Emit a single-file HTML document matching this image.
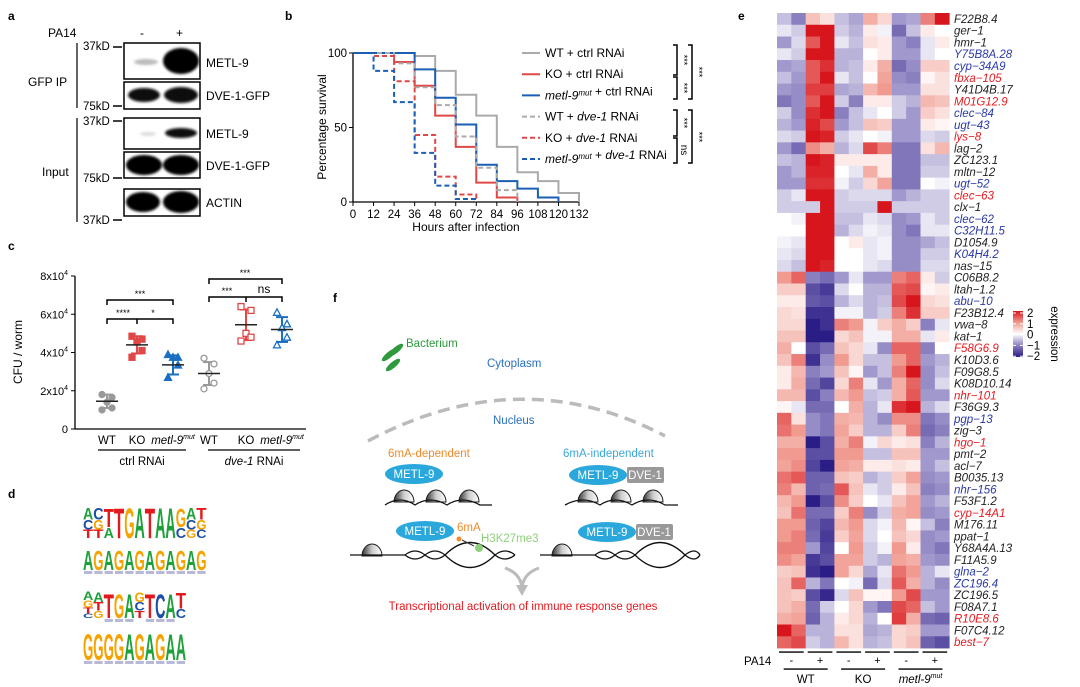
<!DOCTYPE html>
<html><head><meta charset="utf-8"><style>
html,body{margin:0;padding:0;background:#fff}
svg{display:block;font-family:"Liberation Sans",Arial,sans-serif}
</style></head><body>
<svg id="fig" width="1080" height="687" viewBox="0 0 1080 687" xmlns="http://www.w3.org/2000/svg">
<defs>
<linearGradient id="nuc" x1="0" y1="0" x2="1" y2="0"><stop offset="0" stop-color="#333"/><stop offset="0.5" stop-color="#ccc"/><stop offset="1" stop-color="#fff"/></linearGradient>
<linearGradient id="cbar" x1="0" y1="0" x2="0" y2="1"><stop offset="0" stop-color="#d7151d"/><stop offset="0.25" stop-color="#f09a90"/><stop offset="0.5" stop-color="#ffffff"/><stop offset="0.75" stop-color="#8a80c0"/><stop offset="1" stop-color="#2b1d86"/></linearGradient>
<filter id="blur1"><feGaussianBlur stdDeviation="1.2"/></filter>
</defs>

<g font-weight="bold" font-size="12">
<text x="8" y="20">a</text>
<text x="285" y="20">b</text>
<text x="738" y="20">e</text>
<text x="8" y="250">c</text>
<text x="333" y="302">f</text>
<text x="8" y="498">d</text>
</g>

<g id="panelA" font-size="12">
<text x="48" y="37">PA14</text>
<text x="140" y="37">-</text>
<text x="176" y="37">+</text>
<line x1="77" y1="43" x2="77" y2="108" stroke="#333" stroke-width="1.5"/>
<line x1="77" y1="118" x2="77" y2="222" stroke="#333" stroke-width="1.5"/>
<text x="28" y="86">GFP IP</text>
<text x="42" y="176">Input</text>
<g font-size="11.5">
<text x="83" y="50">37kD</text><line x1="113" y1="47" x2="122" y2="47" stroke="#000" stroke-width="1.5"/>
<text x="83" y="110">75kD</text><line x1="113" y1="106" x2="122" y2="106" stroke="#000" stroke-width="1.5"/>
<text x="83" y="125">37kD</text><line x1="113" y1="121" x2="122" y2="121" stroke="#000" stroke-width="1.5"/>
<text x="83" y="182">75kD</text><line x1="113" y1="178" x2="122" y2="178" stroke="#000" stroke-width="1.5"/>
<text x="83" y="224">37kD</text><line x1="113" y1="220" x2="122" y2="220" stroke="#000" stroke-width="1.5"/>
</g>
<g stroke="#000" stroke-width="1.5" fill="#fff">
<rect x="124" y="43" width="76" height="36"/>
<rect x="124" y="82" width="76" height="27"/>
<rect x="124" y="118" width="76" height="31"/>
<rect x="124" y="152" width="76" height="26"/>
<rect x="124" y="189" width="76" height="27"/>
</g>
<g filter="url(#blur1)">
<ellipse cx="146" cy="62" rx="12" ry="3" fill="#bbb"/>
<ellipse cx="181" cy="61" rx="18" ry="13" fill="#000"/>
<ellipse cx="144" cy="95" rx="16" ry="7" fill="#111"/>
<ellipse cx="181" cy="95" rx="17" ry="8" fill="#111"/>
<ellipse cx="148" cy="134" rx="8" ry="2" fill="#ddd"/>
<ellipse cx="181" cy="133" rx="16" ry="5" fill="#111"/>
<ellipse cx="144" cy="165" rx="18" ry="10" fill="#000"/>
<ellipse cx="181" cy="165" rx="18" ry="10" fill="#000"/>
<ellipse cx="143" cy="202" rx="17" ry="10" fill="#000"/>
<ellipse cx="181" cy="202" rx="18" ry="11" fill="#000"/>
</g>
<text x="206" y="67">METL-9</text>
<text x="206" y="100">DVE-1-GFP</text>
<text x="206" y="138">METL-9</text>
<text x="206" y="170">DVE-1-GFP</text>
<text x="206" y="207">ACTIN</text>
</g>

<g id="panelB"></g>
<g id="panelC"></g>
<g id="panelD"></g>

<g id="panelF" font-size="11.5">
<g fill="#2e9a3c">
<ellipse cx="389" cy="355" rx="3" ry="9" transform="rotate(50 389 355)"/>
<ellipse cx="396" cy="350" rx="3" ry="9" transform="rotate(50 396 350)"/>
<ellipse cx="393" cy="365" rx="3" ry="9" transform="rotate(50 393 365)"/>
</g>
<text x="406" y="347" fill="#2e9a3c">Bacterium</text>
<text x="487" y="367" fill="#2a6fc0">Cytoplasm</text>
<path d="M368,441 Q520,360 665,436" fill="none" stroke="#bbb" stroke-width="3.5" stroke-dasharray="12,7"/>
<text x="493" y="424" fill="#2a6fc0">Nucleus</text>
<text x="388" y="457" fill="#f08a2a">6mA-dependent</text>
<text x="563" y="457" fill="#3aa8dc">6mA-independent</text>
<ellipse cx="414" cy="474" rx="29" ry="10" fill="#2aa8dc"/><text x="414" y="478" fill="#fff" text-anchor="middle">METL-9</text>
<ellipse cx="598" cy="475" rx="29" ry="10" fill="#2aa8dc"/><text x="598" y="479" fill="#fff" text-anchor="middle">METL-9</text>
<rect x="627" y="467" width="37" height="16" rx="2" fill="#999"/><text x="645" y="479" fill="#fff" text-anchor="middle">DVE-1</text>
<g fill="url(#nuc)" stroke="#222" stroke-width="1">
<path d="M394,502 a10,12 0 1 1 20,0z"/><path d="M426,502 a10,12 0 1 1 20,0z"/><path d="M459,502 a10,12 0 1 1 20,0z"/>
<path d="M578,502 a10,12 0 1 1 20,0z"/><path d="M611,502 a10,12 0 1 1 20,0z"/><path d="M643,502 a10,12 0 1 1 20,0z"/>
<path d="M362,556 a10,12 0 1 1 20,0z"/><path d="M552,556 a10,12 0 1 1 20,0z"/>
</g>
<g fill="none" stroke="#111" stroke-width="1.3">
<path d="M385,505 Q400,495 415,505 Q430,495 447,505 Q462,495 480,505 L492,505"/>
<path d="M565,505 Q583,495 600,505 Q615,495 632,505 Q648,495 665,505 L678,505"/>
<path d="M350,555 L405,555 Q415,547 425,555 Q435,563 445,555 Q470,530 495,555 Q505,563 515,555"/>
<path d="M405,555 Q415,563 425,555 Q435,547 445,555 Q470,580 495,555 Q505,547 515,555"/>
<path d="M540,555 L595,555 Q605,547 615,555 Q625,563 635,555 Q660,530 685,555 Q695,563 700,555"/>
<path d="M595,555 Q605,563 615,555 Q625,547 635,555 Q660,580 685,555 Q695,547 700,555"/>
</g>
<ellipse cx="425" cy="531" rx="29" ry="10" fill="#2aa8dc"/><text x="425" y="535" fill="#fff" text-anchor="middle">METL-9</text>
<text x="457" y="531" fill="#f08a2a">6mA</text>
<circle cx="459" cy="539" r="2.5" fill="#f08a2a"/>
<line x1="462" y1="540" x2="474" y2="546" stroke="#333"/>
<circle cx="479" cy="548" r="4" fill="#8ecf7a"/>
<text x="481" y="542" fill="#8ecf7a">H3K27me3</text>
<ellipse cx="607" cy="532" rx="29" ry="10" fill="#2aa8dc"/><text x="607" y="536" fill="#fff" text-anchor="middle">METL-9</text>
<rect x="636" y="524" width="37" height="16" rx="2" fill="#999"/><text x="654" y="536" fill="#fff" text-anchor="middle">DVE-1</text>
<path d="M505,568 Q522,574 522,590 Q522,574 539,568" fill="none" stroke="#bbb" stroke-width="3"/>
<path d="M516,585 L522,596 L528,585z" fill="#bbb"/>
<text x="523" y="610" fill="#e8191f" text-anchor="middle">Transcriptional activation of immune response genes</text>
</g>

<g id="panelE"></g>
</svg>

<script>
const NS="http://www.w3.org/2000/svg";
function mk(parent,tag,attrs,text){const e=document.createElementNS(NS,tag);for(const k in attrs)e.setAttribute(k,attrs[k]);if(text!==undefined)e.textContent=text;parent.appendChild(e);return e;}

/* ---------- Panel b: survival ---------- */
const survTimes=[0,12,24,36,48,60,72,84,96,108,120,132];
const survWTctrl=[100,100,100,98,88,72,58,37,20,14,6,0];
const survKOctrl=[100,100,94,78,58,37,13,3,0,0,0,0];
const survMETLctrl=[100,100,100,89,70,52,25,14,9,3,0,0];
const survWTdve=[100,100,93,77,65,44,23,8,0,0,0,0];
const survKOdve=[100,98,81,45,17,5,0,0,0,0,0,0];
const survMETLdve=[100,88,67,33,11,2,0,0,0,0,0,0];
const survXTicks=[0,12,24,36,48,60,72,84,96,108,120,132];
const survYTicks=[0,50,100];
const survLegend=["WT + ctrl RNAi","KO + ctrl RNAi","metl-9mut + ctrl RNAi","WT + dve-1 RNAi","KO + dve-1 RNAi","metl-9mut + dve-1 RNAi"];
(function(){
 const g=document.getElementById('panelB');
 const X=t=>353+(t/132)*226, Y=v=>202-(v/100)*149;
 mk(g,'line',{x1:X(0),y1:Y(0),x2:X(132),y2:Y(0),stroke:'#000','stroke-width':1.3});
 mk(g,'line',{x1:X(0),y1:Y(0),x2:X(0),y2:Y(100),stroke:'#000','stroke-width':1.3});
 survXTicks.forEach(t=>{mk(g,'line',{x1:X(t),y1:Y(0),x2:X(t),y2:Y(0)+4,stroke:'#000'});
   const l=mk(g,'text',{x:X(t),y:218,'font-size':11.5,'text-anchor':'middle'},String(t));
   });
 survYTicks.forEach(v=>{mk(g,'line',{x1:X(0)-4,y1:Y(v),x2:X(0),y2:Y(v),stroke:'#000'});
   const l=mk(g,'text',{x:X(0)-6,y:Y(v)+4,'font-size':11.5,'text-anchor':'end'},String(v));
   });
 const yt=mk(g,'text',{x:0,y:0,'font-size':12,'text-anchor':'middle',transform:'translate(326,127) rotate(-90)'},'Percentage survival');
 
 const xt=mk(g,'text',{x:466,y:231,'font-size':12,'text-anchor':'middle'},'Hours after infection');
 
 const series=[[survWTctrl,'#aaa',''],[survKOctrl,'#e04848',''],[survMETLctrl,'#1a5fb4',''],[survWTdve,'#aaa','5,3'],[survKOdve,'#e04848','5,3'],[survMETLdve,'#1a5fb4','5,3']];
 series.forEach((s,i)=>{
  const vals=s[0];let d='M'+X(survTimes[0])+','+Y(vals[0]);
  for(let k=1;k<survTimes.length;k++){d+=' H'+X(survTimes[k])+' V'+Y(vals[k]);if(vals[k]===0)break;}
  const p=mk(g,'path',{d:d,fill:'none',stroke:s[1],'stroke-width':2,'stroke-dasharray':s[2]});
  
  const ly=53+i*21.2;
  mk(g,'line',{x1:522,y1:ly,x2:540,y2:ly,stroke:s[1],'stroke-width':2,'stroke-dasharray':s[2]});
  const lt=mk(g,'text',{x:545,y:ly+4,'font-size':12});
  
  const name=survLegend[i];
  const m=name.match(/^(metl-9)(mut)(.*)$/);
  let rest=name;
  if(m){mk(lt,'tspan',{'font-style':'italic'},'metl-9');mk(lt,'tspan',{'font-size':8,dy:-4,'font-style':'italic'},'mut');rest=m[3];mk(lt,'tspan',{dy:4},'');}
  const parts=rest.split('dve-1');
  mk(lt,'tspan',{},parts[0]);
  if(parts.length>1){mk(lt,'tspan',{'font-style':'italic'},'dve-1');mk(lt,'tspan',{},parts[1]);}
 });
 const br=(x,y1,y2)=>mk(g,'path',{d:`M${x-4},${y1} H${x} V${y2} H${x-4}`,fill:'none',stroke:'#000','stroke-width':1.5});
 br(677,45,75);br(677,77,99);br(692,45,99);br(677,110,136);br(677,138,163);br(692,110,163);
 [['***',681,60],['***',681,88],['***',696,72],['***',681,123],['ns',681,150],['***',696,137]].forEach(a=>{
  mk(g,'text',{x:0,y:0,'font-size':a[0]==='ns'?10:9,'text-anchor':'middle',transform:`translate(${a[1]},${a[2]}) rotate(90)`},a[0]);});
})();

/* ---------- Panel c: CFU ---------- */
const cfuGroups=["WT","KO","metl-9mut","WT","KO","metl-9mut"];
const cfuMeans=[1.45,4.4,3.35,2.9,5.45,5.2];
const cfuSD=[0.35,0.45,0.5,0.6,0.8,0.65];
const cfuPoints=[[1.8,1.65,1.4,1.1,1.0],[4.85,4.7,4.55,4.1,3.75],[3.9,3.75,3.75,3.35,2.7],[3.7,3.4,2.9,2.4,2.1],[6.4,6.2,5.0,4.8,4.6],[6.1,5.5,5.3,4.8,4.4]];
const cfuYTicks=[0,2,4,6,8];
(function(){
 const g=document.getElementById('panelC');
 const xs=[107,137,173,209,246,282];
 const Y=v=>429-(v/8)*153;
 mk(g,'line',{x1:75,y1:Y(0),x2:306,y2:Y(0),stroke:'#000','stroke-width':1.3});
 mk(g,'line',{x1:75,y1:Y(0),x2:75,y2:Y(8),stroke:'#000','stroke-width':1.3});
 cfuYTicks.forEach(v=>{mk(g,'line',{x1:71,y1:Y(v),x2:75,y2:Y(v),stroke:'#000'});
  const t=mk(g,'text',{x:68,y:Y(v)+4,'font-size':11,'text-anchor':'end'});
  
  if(v===0)t.textContent='0';else{mk(t,'tspan',{},v+'x10');mk(t,'tspan',{'font-size':7,dy:-5},'4');}});
 const yt=mk(g,'text',{x:0,y:0,'font-size':12,'text-anchor':'middle',transform:'translate(22,352) rotate(-90)'},'CFU / worm');
 
 const cols=['#999','#e04848','#1a6fc0','#999','#e04848','#1a6fc0'];
 cfuPoints.forEach((pts,i)=>{
  const x=xs[i],c=cols[i];
  mk(g,'line',{x1:x,y1:Y(cfuMeans[i]+cfuSD[i]),x2:x,y2:Y(cfuMeans[i]-cfuSD[i]),stroke:c,'stroke-width':2});
  mk(g,'line',{x1:x-6,y1:Y(cfuMeans[i]+cfuSD[i]),x2:x+6,y2:Y(cfuMeans[i]+cfuSD[i]),stroke:c,'stroke-width':2});
  mk(g,'line',{x1:x-6,y1:Y(cfuMeans[i]-cfuSD[i]),x2:x+6,y2:Y(cfuMeans[i]-cfuSD[i]),stroke:c,'stroke-width':2});
  pts.forEach((v,k)=>{
   const off=[-5,5,0,5,-5][k];const cx=x+off,cy=Y(v);let el;
   const open=i>=3;
   if(i%3===0)el=mk(g,'circle',{cx:cx,cy:cy,r:3,fill:open?'#fff':c,stroke:c,'stroke-width':1.3});
   else if(i%3===1)el=mk(g,'rect',{x:cx-3,y:cy-3,width:6,height:6,fill:open?'#fff':c,stroke:c,'stroke-width':1.3});
   else el=mk(g,'path',{d:`M${cx},${cy-3.5} L${cx+3.5},${cy+3} L${cx-3.5},${cy+3}z`,fill:open?'#fff':c,stroke:c,'stroke-width':1.3});
   
  });
  const m=mk(g,'line',{x1:x-11,y1:Y(cfuMeans[i]),x2:x+11,y2:Y(cfuMeans[i]),stroke:'#222','stroke-width':1.5});
  
  const lbl=mk(g,'text',{x:x,y:444,'font-size':11.5,'text-anchor':'middle'});
  
  if(cfuGroups[i]==='metl-9mut'){mk(lbl,'tspan',{'font-style':'italic'},'metl-9');mk(lbl,'tspan',{'font-size':7,dy:-5,'font-style':'italic'},'mut');}
  else lbl.textContent=cfuGroups[i];
 });
 mk(g,'line',{x1:98,y1:450,x2:186,y2:450,stroke:'#000','stroke-width':1.3});
 mk(g,'line',{x1:208,y1:450,x2:300,y2:450,stroke:'#000','stroke-width':1.3});
 mk(g,'text',{x:142,y:465,'font-size':11.5,'text-anchor':'middle'},'ctrl RNAi');
 const dv=mk(g,'text',{x:254,y:465,'font-size':11.5,'text-anchor':'middle'});
 mk(dv,'tspan',{'font-style':'italic'},'dve-1');mk(dv,'tspan',{},' RNAi');
 const brk=(x1,x2,y,mid)=>{let d=`M${x1},${y+5} V${y} H${x2} V${y+5}`;if(mid)d+=` M${mid},${y} V${y+5}`;mk(g,'path',{d:d,fill:'none',stroke:'#000','stroke-width':1.5});};
 brk(xs[0],xs[2],300);brk(xs[0],xs[2],319,xs[1]);brk(xs[3],xs[5],279);brk(xs[3],xs[5],297,xs[4]);
 [['***',140,297],['****',123,316],['*',153,316],['***',245,276],['***',227,294],['ns',264,293]].forEach(a=>mk(g,'text',{x:a[1],y:a[2],'font-size':a[0]==='ns'?12:9,'text-anchor':'middle'},a[0]));
})();

/* ---------- Panel d: sequence logos ---------- */
const logoRow1=["ACT","CGT","TA","T","G","A","T","A","A","GC","ACG","TGC"];
const logoRow2=["A","G","A","G","A","G","A","G","A","G","A","G"];
const logoRow3=["AGTC","ATG","T","G","A","GCT","T","C","A","TC"];
const logoRow4=["G","G","G","G","A","G","A","G","A","A"];
(function(){
 const g=document.getElementById('panelD');
 const col={A:'#1ea03a',C:'#1d4fa6',G:'#f5a300',T:'#e31a1c'};
 const rows=[[logoRow1,538,31,10.3],[logoRow2,570,22,10.3],[logoRow3,618,27,10.3],[logoRow4,660,29,10.3]];
 rows.forEach((r,ri)=>{
  const arr=r[0],base=r[1],H=r[2],w=r[3];
  arr.forEach((stack,i)=>{
   const x=83+i*w;
   let hs;
   if(stack.length===1)hs=[ri===0?H:H*0.92];
   else if(stack.length===2)hs=[H*0.6,H*0.35];
   else if(stack.length===3)hs=[H*0.38,H*0.32,H*0.28];
   else hs=[H*0.32,H*0.27,H*0.22,H*0.17];
   let top=base-hs.reduce((a,b)=>a+b,0);
   stack.split('').forEach((ch,k)=>{
    const h=hs[k];const fs=h/0.72;
    const t=mk(g,'text',{x:0,y:0,'font-size':fs,'font-weight':'bold',fill:col[ch],textLength:w,lengthAdjust:'spacingAndGlyphs',transform:`translate(${x},${top+h})`},ch);
    
    top+=h;
   });
   if(ri>0&&stack.length===1){mk(g,'rect',{x:x+1,y:base+1,width:w-2,height:3,fill:'#b8b8d8'});}
  });
 });
})();

/* ---------- Panel e: heatmap ---------- */
const geneNames=["F22B8.4","ger-1","hmr-1","Y75B8A.28","cyp-34A9","fbxa-105","Y41D4B.17","M01G12.9","clec-84","ugt-43","lys-8","lag-2","ZC123.1","mltn-12","ugt-52","clec-63","clx-1","clec-62","C32H11.5","D1054.9","K04H4.2","nas-15","C06B8.2","ltah-1.2","abu-10","F23B12.4","vwa-8","kat-1","F58G6.9","K10D3.6","F09G8.5","K08D10.14","nhr-101","F36G9.3","pgp-13","zig-3","hgo-1","pmt-2","acl-7","B0035.13","nhr-156","F53F1.2","cyp-14A1","M176.11","ppat-1","Y68A4A.13","F11A5.9","glna-2","ZC196.4","ZC196.5","F08A7.1","R10E8.6","F07C4.12","best-7"];
const geneColors=["k","k","k","b","b","r","k","r","b","b","r","k","k","k","b","r","k","b","b","k","b","k","k","k","b","k","k","k","r","k","k","k","r","k","b","k","r","k","k","k","b","k","r","k","k","k","k","b","b","k","k","r","k","r"];
const expr=[
[-0.5,-1,0.6,0.3,-0.5,-0.7,0.8,0.4,-0.8,-0.7,1.2,2],
[-0.2,-0.4,2.2,2,-0.4,-0.6,0.2,-0.1,-1.2,-0.5,0.2,0],
[-0.8,-0.3,1.5,2.2,-0.2,-0.5,0.3,0.2,-0.8,-1,-0.2,0.2],
[-0.2,-0.4,2.2,2.1,-0.6,-0.6,0,0.2,-0.8,-0.8,-0.2,0],
[-0.8,-0.7,1.5,1.8,-0.6,-0.5,0.2,0.8,-1.2,-0.9,0.5,0.5],
[-0.5,-0.8,1.5,2.2,-0.2,-0.5,0,0.9,-0.9,-1,0.1,0.3],
[-0.8,-0.9,1.7,1.7,-0.7,-0.6,0.7,1,-0.8,-0.8,0.3,0.3],
[-1.1,-0.9,1.5,2,-0.4,-1,0.2,0.2,-0.4,-0.6,0.7,0.6],
[-0.4,-0.9,1.8,2.2,-1,-0.5,-0.2,0,-0.4,-0.8,0.5,0.3],
[-0.6,-0.8,1.9,1.6,-0.8,-0.5,0.6,0.5,-0.8,-0.8,0.2,0.1],
[-0.3,-0.4,2.2,1.9,-0.4,-0.2,0,-0.1,-0.8,-0.8,-0.3,-0.4],
[-0.8,-1.2,1.1,0.8,-0.6,-0.3,1.6,1.2,-1.1,-1.1,0.3,0.7],
[-0.5,-0.6,2,1.9,0.2,0.2,0.2,0.2,-1.1,-1.1,-0.5,-0.5],
[-0.8,-0.6,1.9,1.9,0,-0.2,0.8,0.2,-1.1,-1.1,-0.4,-0.4],
[-0.8,-0.8,1.8,1.8,-0.1,-0.4,0.4,0.9,-1.1,-1.1,0,-0.1],
[-0.4,-0.2,2.2,2.2,-0.4,-0.3,-0.3,-0.3,-0.8,-0.6,-0.4,-0.4],
[-0.4,-0.4,-0.4,2.2,-0.4,-0.4,-0.4,2.2,-0.4,-0.4,-0.4,-0.4],
[0,-0.1,2.2,2.2,-0.5,-0.5,-0.2,-0.3,-0.9,-0.8,-0.2,-0.4],
[0,0,2.2,2.1,-0.6,-0.3,-0.1,-0.2,-0.9,-1.1,-0.2,-0.2],
[-0.1,-0.2,2.2,2,0,0.2,-0.2,-0.1,-0.9,-0.9,-0.7,-0.5],
[-0.2,-0.3,2.2,2.2,0,0,-0.2,-0.1,-0.9,-0.9,-0.4,-0.4],
[-0.3,-0.5,2.2,1.9,0,0,-0.2,-0.3,-0.9,-0.9,-0.3,-0.3],
[1,1.4,-1,-1.2,-0.8,-0.2,-0.8,-0.8,1.2,1.4,0.2,-0.4],
[0.5,0.5,-1.5,-1.7,-0.3,0,-0.6,-0.6,1.5,1.6,0.1,0.2],
[0.2,0.2,-1.4,-1.5,-0.6,-0.3,-0.6,-0.5,1.6,2,0.4,0.3],
[0.4,0.3,-1.8,-1.8,-0.1,-0.1,-0.6,-0.4,1.2,1.8,0.5,0.5],
[0.4,0.4,-2,-1.8,1.2,1,-0.1,0.5,0.8,0.5,-1,-0.2],
[0.6,0.6,-2,-2,0.4,0.6,-0.1,-0.1,0.8,0.8,-0.2,0.2],
[0.8,0,-1.5,-1.2,0.6,0.4,-0.2,-0.9,1.4,1.4,-1,0],
[0.6,1.2,-1.8,-0.9,1,0.4,-0.5,-0.5,1,1.4,-0.8,-0.6],
[0.2,0.7,-1,-0.8,0.6,0.1,-0.8,-0.5,1.2,2.2,-0.9,-0.5],
[0.2,0.8,-1.2,-1.6,0.4,1.2,-0.2,-0.8,0.8,1.4,-0.9,-0.3],
[0.7,0.7,-1.5,-1,0.7,1,-0.5,-0.4,0.8,1.5,-0.8,-0.8],
[0.1,-0.2,-1.2,-1.2,0,0.8,-0.6,-0.2,1.8,2.2,-0.6,-0.3],
[1.4,0.3,-0.9,-1.1,0.8,0.7,-0.6,-0.9,1.1,1.1,-1.1,-0.9],
[1.3,1,-0.9,-1.1,0.9,0.5,-0.6,-0.6,0.5,1.2,-1.2,-1],
[0.8,0.8,-2,-1.5,0.8,1.2,-0.1,0.4,0.2,0.3,-1,-0.6],
[1,1,-1.5,-1.5,1,1,-0.5,-0.5,0.6,0.6,-0.8,-0.8],
[0.9,1.1,-1.6,-2,0.9,0.8,0.2,0.2,0.3,0.2,-0.8,-0.5],
[1.3,1.5,-1.3,-1.3,0.6,0.5,-0.6,-0.4,0.5,0.9,-0.9,-0.8],
[1.2,0.7,-1.3,-1.2,1.5,0.6,-0.2,-0.4,0.2,0.6,-1,-0.9],
[0.7,1,-2,-1.5,1.1,0.5,0,-0.2,0.6,0.9,-0.8,-0.6],
[0.6,1.3,-1.2,-1.2,0.5,1.2,-0.9,-0.4,0.8,0.9,-0.9,-0.8],
[1,1,-1.3,-1.6,0.7,1,-0.3,-0.1,0.7,0.1,-0.5,-1],
[1,1.2,-1.2,-1.7,0.5,0.9,-0.3,0,0.6,0.4,-0.9,-0.8],
[1.2,1.2,-0.8,-1.6,0,1,-0.4,-0.1,1,0.2,-0.9,-1.1],
[1.1,0.9,-1.7,-1.5,0.9,0.9,-0.4,-0.6,0.9,0.8,-0.8,-0.9],
[0.5,0.6,-1.8,-2,0.9,0.4,-0.7,-0.2,1.3,1,-0.6,-0.2],
[0.6,1.4,-0.6,-1.1,0,-0.1,-1.2,-0.3,1.5,0.8,-0.6,-0.9],
[0.6,0.5,-1.5,-1.9,-0.3,0.6,0.1,0.1,1,1.6,-0.8,-0.8],
[0.6,0.8,-1.2,-0.4,0,0.4,-0.8,-1.1,1.6,1.4,-0.5,-0.8],
[0.8,0.9,-1.3,-0.6,0.2,0.4,-0.6,0,1.7,0.8,-1.2,-1.3],
[2,1.4,-0.6,-0.6,0.3,0.3,-0.7,-0.6,0.4,0.5,-0.8,-0.8],
[1.4,1.6,-0.4,-0.6,0.7,0.3,-0.6,-0.5,0.4,0.6,-1.3,-1.5]];
const cbTicks=["2","1","0","\u22121","\u22122"];
(function(){
 const g=document.getElementById('panelE');
 const x0=777,y0=13,cw=14.35,rh=11.76;
 const lerp=(a,b,t)=>a.map((v,i)=>Math.round(v+(b[i]-v)*t));
 const stops=[[43,29,134],[138,128,192],[255,255,255],[240,154,144],[215,21,29]];
 const color=v=>{v=Math.max(-2,Math.min(2,v));const p=v+2;const i=Math.min(3,Math.floor(p));const c=lerp(stops[i],stops[i+1],p-i);return `rgb(${c[0]},${c[1]},${c[2]})`;};
 const cmap={k:'#222',r:'#e8191f',b:'#2a38a8'};
 expr.forEach((row,r)=>{
  row.forEach((v,c)=>{
   const cell=mk(g,'rect',{x:x0+c*cw,y:y0+r*rh,width:cw+0.4,height:rh+0.4,fill:color(v)});
   
  });
  const t=mk(g,'text',{x:954,y:y0+r*rh+rh-1.8,'font-size':11.5,'font-style':'italic',fill:cmap[geneColors[r]]},geneNames[r].replace('-','\u2212'));
  
 });
 const by=y0+54*rh+4;
 for(let k=0;k<6;k++){
  mk(g,'line',{x1:x0+k*2*cw+2,y1:by,x2:x0+(k+1)*2*cw-2,y2:by,stroke:'#000','stroke-width':1.3});
  mk(g,'text',{x:x0+k*2*cw+cw,y:by+12,'font-size':11,'text-anchor':'middle'},k%2===0?'-':'+');
 }
 mk(g,'text',{x:744,y:by+13,'font-size':11.5},'PA14');
 const grp=['WT','KO','metl-9'];
 for(let k=0;k<3;k++){
  const cx=x0+k*4*cw+2*cw;
  mk(g,'line',{x1:cx-22,y1:by+17,x2:cx+22,y2:by+17,stroke:'#000','stroke-width':1.3});
  const t=mk(g,'text',{x:cx,y:by+31,'font-size':11.5,'text-anchor':'middle'});
  
  if(k===2){mk(t,'tspan',{'font-style':'italic'},'metl-9');mk(t,'tspan',{'font-size':7,dy:-5,'font-style':'italic'},'mut');}
  else t.textContent=grp[k];
 }
 const cb=mk(g,'rect',{x:1013,y:311,width:10,height:46,fill:'url(#cbar)'});
 
 cbTicks.forEach((s,i)=>{const y=313+i*10.8;mk(g,'line',{x1:1013,y1:y,x2:1016,y2:y,stroke:'#fff'});mk(g,'line',{x1:1020,y1:y,x2:1023,y2:y,stroke:'#fff'});
  mk(g,'text',{x:1027,y:y+4,'font-size':11.5},s);});
 const et=mk(g,'text',{x:0,y:0,'font-size':11.5,'text-anchor':'middle',transform:'translate(1051,334) rotate(90)'},'expression');
 
})();
</script>
</body></html>
